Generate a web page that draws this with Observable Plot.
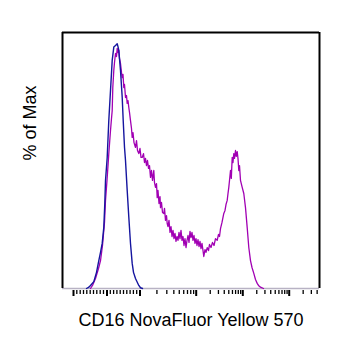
<!DOCTYPE html>
<html>
<head>
<meta charset="utf-8">
<script src="https://cdn.jsdelivr.net/npm/d3@7"></script>
<script src="https://cdn.jsdelivr.net/npm/@observablehq/plot@0.6"></script>
<style>
  html, body { margin: 0; padding: 0; background: #fff; }
  #chart svg { display: block; }
</style>
</head>
<body>
<div id="chart"></div>
<script>
// Histogram of CD16 NovaFluor Yellow 570 staining, displayed on a
// biexponential channel scale (0–257 display channels), normalised to % of max.

// Isotype / unstained control (blue): [channel, % of max]
const controlChannel = [24, 26, 28, 31.3, 34, 36.3, 38, 39.7, 41.3, 42.3, 43, 44.7, 46.3, 48, 49.7, 51.3, 53, 54, 54.7, 55.5, 56.3, 58, 59.7, 60.7, 62, 63, 64.7, 66.3, 68, 69.7, 71, 73, 76.3, 78, 80];
const controlPct     = [0, 0.4, 1.2, 2.7, 6.3, 10.9, 14.1, 17.6, 23.9, 33.2, 42.2, 51.2, 65.6, 77.3, 89.1, 94.3, 94.9, 95.3, 95.6, 94.5, 93, 85.2, 74.7, 65.6, 55.2, 50, 38.3, 27.9, 17.6, 9.8, 6.3, 3.9, 1.2, 0.3, 0];

// CD16 stained sample (magenta): [channel, % of max]
const stainedChannel = [28, 30, 33, 36, 38, 40, 42, 43, 44.5, 45.5, 46.3, 48, 49, 49.7, 50.3, 51.3, 52, 53, 54, 54.7, 55.5, 56.3, 57, 58, 59, 59.7, 60.5, 61.3, 62, 63, 64, 64.7, 65.5, 66.3, 67, 68, 69, 69.7, 70.5, 71.5, 73, 74, 75, 76.3, 77.5, 78.5, 79.7, 81, 82, 83, 84, 85, 86, 87, 88, 89, 90, 91.3, 92, 93, 94, 94.7, 95.5, 96.5, 97.5, 98, 99, 100, 101.3, 102, 103, 104, 104.7, 105.5, 106.5, 107.5, 108.5, 109.5, 110.5, 111.5, 112.5, 113.5, 114.5, 115.5, 116.5, 117.5, 118.5, 119.5, 120.5, 121.5, 122.5, 123.5, 124.5, 125.5, 126.5, 127.5, 128.5, 129.5, 130.5, 131.5, 132.5, 133.5, 134.5, 135.5, 136.5, 137.5, 138.5, 139.5, 140.5, 141.3, 142.5, 143.5, 144.7, 146, 147, 148.5, 150, 151.5, 153, 154.7, 156, 157, 158, 159.5, 161.3, 162.5, 163.5, 164.7, 165.5, 166.3, 167, 168, 168.8, 169.7, 170.5, 171.3, 172, 173, 173.8, 174.7, 175.5, 176.3, 177, 178, 179.7, 181.3, 183, 184.7, 186.3, 188, 189.5, 191.3, 193, 194.7, 196, 198, 201];
const stainedPct     = [0, 1.2, 3.9, 7.8, 10.9, 16.8, 25.8, 34.4, 42.2, 48, 52.7, 61.7, 66.4, 69.5, 78.5, 85.2, 88.3, 91.8, 90.6, 93.8, 92.2, 93, 89.8, 87.9, 84.4, 82.4, 83.6, 78.5, 79.7, 74.6, 75.4, 72.3, 73.4, 70.7, 68.8, 65.6, 62.5, 59, 60.9, 57, 55.1, 57.8, 53.9, 52.7, 54.7, 51.2, 51.2, 52.7, 49.2, 50.8, 48, 50, 46.9, 48, 43.4, 46.1, 42.2, 46.1, 41.4, 39.5, 41, 35.5, 38.3, 33.2, 35.9, 31.6, 33.6, 29.7, 29.3, 31.3, 26.6, 28.5, 25.4, 24.2, 26.6, 21.9, 24.2, 20.3, 22.7, 19.5, 21.5, 18.4, 20.3, 18.8, 21.9, 19.5, 22.7, 18.8, 20.3, 16.8, 19.5, 16, 18.8, 20.7, 18, 22.3, 19.9, 21.9, 18.8, 20.7, 17.6, 19.5, 16.8, 19.1, 16.4, 18.4, 15.6, 17.6, 14.8, 12.5, 15.2, 14.1, 16, 14.8, 17.2, 16, 18, 16.8, 19.5, 18.8, 21.1, 20.3, 23.4, 25.8, 29.3, 30.5, 32.8, 34.4, 37.1, 39.5, 42.2, 46.1, 43, 51.2, 49.2, 52.7, 50.8, 53.9, 51.6, 53.5, 50.8, 46.1, 48, 42.2, 39.5, 37.1, 31.6, 23.8, 16, 10.9, 8.2, 5.9, 3.5, 2, 1.2, 0.5, 0];

// Axis ticks in display channels: -10^3, 0, 10^3, 10^4, 10^5, 10^6
const majorTicks = [11, 44.5, 77.5, 133.7, 180.3, 226.7];
const linearMinorTicks = [14.3, 17.7, 21, 24.3, 27.7, 31, 34.3, 37.7, 41, 47.8, 51.1, 54.4, 57.7, 61, 64.3, 67.6, 70.9, 74.2];
const logMinorFactors = [2, 3, 4, 5, 6, 7, 8, 9];

const xLabel = "CD16 NovaFluor Yellow 570";
const yLabel = "% of Max";

// Log-spaced minor ticks inside each decade above 10^3
const logMinorTicks = [];
for (let i = 2; i < majorTicks.length; i++) {
  const a = majorTicks[i];
  const b = i + 1 < majorTicks.length ? majorTicks[i + 1] : a + (majorTicks[i] - majorTicks[i - 1]);
  for (const k of logMinorFactors) {
    const t = a + (b - a) * Math.log10(k);
    if (t < 257) logMinorTicks.push(t);
  }
}

const control = controlChannel.map((c, i) => ({channel: c, pct: controlPct[i]}));
const stained = stainedChannel.map((c, i) => ({channel: c, pct: stainedPct[i]}));

const font = "Liberation Sans, Arial, Helvetica, sans-serif";

const chart = Plot.plot({
  width: 339,
  height: 345,
  marginLeft: 62,
  marginRight: 20,
  marginTop: 32,
  marginBottom: 57,
  style: {fontFamily: font, background: "#fff"},
  x: {domain: [0, 257]},
  y: {domain: [0, 100], axis: null},
  marks: [
    // plot frame: black left/top/right, light baseline
    Plot.ruleY([0], {stroke: "#b8b2c4", strokeWidth: 1.5}),
    Plot.ruleY([100], {stroke: "#000", strokeWidth: 2}),
    Plot.ruleX([0, 257], {stroke: "#000", strokeWidth: 2}),
    Plot.line(stained, {x: "channel", y: "pct", stroke: "#a100b3", strokeWidth: 1.3, curve: "linear"}),
    Plot.line(control, {x: "channel", y: "pct", stroke: "#15159f", strokeWidth: 1.4, curve: "linear"}),
    Plot.axisX(majorTicks, {tickSize: 6, strokeWidth: 2, dy: 2, tickFormat: () => "", label: null}),
    Plot.axisX(linearMinorTicks.concat(logMinorTicks), {tickSize: 4, strokeWidth: 1.3, dy: 2, tickFormat: () => "", label: null}),
    Plot.text([xLabel], {frameAnchor: "bottom", dy: 37, fontSize: 18, fill: "#000", fontFamily: font}),
    Plot.text([yLabel], {frameAnchor: "left", dx: -32, rotate: -90, fontSize: 18, fill: "#000", fontFamily: font})
  ]
});

document.getElementById("chart").appendChild(chart);
</script>
</body>
</html>
